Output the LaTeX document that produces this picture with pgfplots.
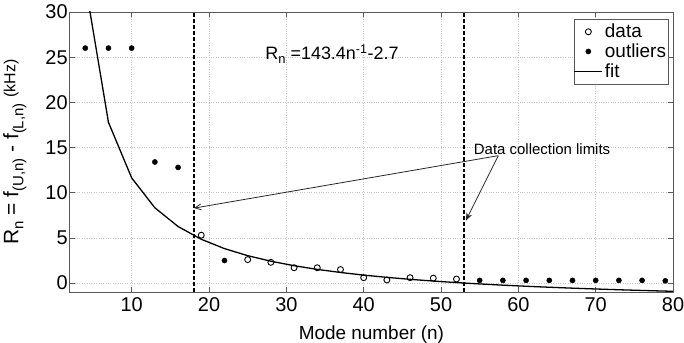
\documentclass[border=0pt]{standalone}
\usepackage{fontspec}
\setmainfont{Liberation Sans}
\usepackage{pgfplots}
\pgfplotsset{compat=1.18}
\usetikzlibrary{arrows.meta}
\newcommand\sub[1]{\raisebox{-5pt}{\fontsize{15}{15}\selectfont #1}}
\begin{document}
\begin{tikzpicture}
\path[use as bounding box] (-70pt,-51pt) rectangle (616pt,293pt);
\begin{axis}[
  at={(0pt,0pt)}, anchor=south west,
  scale only axis,
  width=605pt, height=281pt,
  xmin=2, xmax=80, ymin=-1, ymax=30,
  xtick={10,20,30,40,50,60,70,80},
  ytick={0,5,10,15,20,25,30},
  tick align=inside,
  major tick length=5pt,
  font=\fontsize{19}{22}\selectfont,
  tick label style={font=\fontsize{20}{22}\selectfont},
  yticklabel style={inner xsep=2pt},
  xticklabel style={inner ysep=5pt},
  /pgf/number format/assume math mode=true,
  axis line style={gray!70!black, line width=0.8pt},
  every tick/.style={gray!70!black, line width=0.6pt},
  grid=major,
  major grid style={dotted, gray!45, line width=0.6pt},
  xlabel={Mode number (n)},
  ylabel={\fontsize{21}{22}\selectfont R\sub{n} = f\sub{(U,n)} - f\sub{(L,n)} \raisebox{3pt}{\fontsize{16}{16}\selectfont(kHz)}},
  xlabel style={at={(axis description cs:0.5,0)}, anchor=center, yshift=-43pt},
  ylabel style={at={(axis description cs:0,0.5)}, anchor=center, yshift=55pt},
  legend style={at={(0.992,0.975)}, anchor=north east, draw=gray!70!black,
    font=\fontsize{19}{22}\selectfont, inner xsep=0pt, inner ysep=4pt,
    nodes={inner xsep=2pt, inner ysep=1pt}, row sep=2.5pt},
  legend cell align=left,
  legend image code/.code={\draw[mark repeat=2,mark phase=2,#1] plot coordinates {(0pt,0pt)(14pt,0pt)(28pt,0pt)};},
]
\addplot[only marks, mark=o, mark size=3pt, mark options={line width=0.9pt}, black] coordinates {
(19,5.3)(25,2.6)(28,2.3)(31,1.7)(34,1.7)(37,1.5)(40,0.6)(43,0.35)(46,0.6)(49,0.55)(52,0.45)
};
\addlegendentry{data}
\addplot[only marks, mark=*, mark size=2.6pt, black] coordinates {
(4,26)(7,26)(10,26)(13,13.4)(16,12.8)(22,2.5)
(55,0.3)(58,0.3)(61,0.3)(64,0.3)(67,0.3)(70,0.3)(73,0.3)(76,0.3)(79,0.25)
};
\addlegendentry{outliers}
\addplot[black, line width=1.3pt] coordinates {
(4,33.15)(7,17.786)(10,11.64)(13,8.331)(16,6.2625)(19,4.847)(22,3.818)(25,3.036)
(28,2.421)(31,1.926)(34,1.518)(37,1.176)(40,0.885)(43,0.635)(46,0.417)(49,0.227)
(52,0.058)(55,-0.093)(58,-0.228)(61,-0.349)(64,-0.459)(67,-0.560)(70,-0.651)
(73,-0.736)(76,-0.813)(79,-0.885)(80,-0.907)
};
\addlegendentry{fit}
\addplot[black, line width=2pt, dash pattern=on 4pt off 2pt, forget plot] coordinates {(18,-1)(18,30)};
\addplot[black, line width=2pt, dash pattern=on 4pt off 2pt, forget plot] coordinates {(53,-1)(53,30)};
\draw[gray!30!black, line width=0.8pt, -{Straight Barb[length=6pt,width=6pt]}] (axis cs:57.4,14.1) -- (axis cs:18.1,8.3);
\draw[gray!30!black, line width=0.8pt, -{Stealth[length=8pt,width=6pt]}] (axis cs:57.4,14.1) -- (axis cs:53.2,6.9);
\node[inner sep=1pt, anchor=west, font=\fontsize{15}{17}\selectfont] at (axis cs:54.1,14.8) {Data collection limits};
\node[font=\fontsize{18}{20}\selectfont] at (axis cs:35.9,25.3) {R\raisebox{-4pt}{\fontsize{13}{13}\selectfont n} =143.4n\textsuperscript{-1}-2.7};
\end{axis}
\end{tikzpicture}
\end{document}
